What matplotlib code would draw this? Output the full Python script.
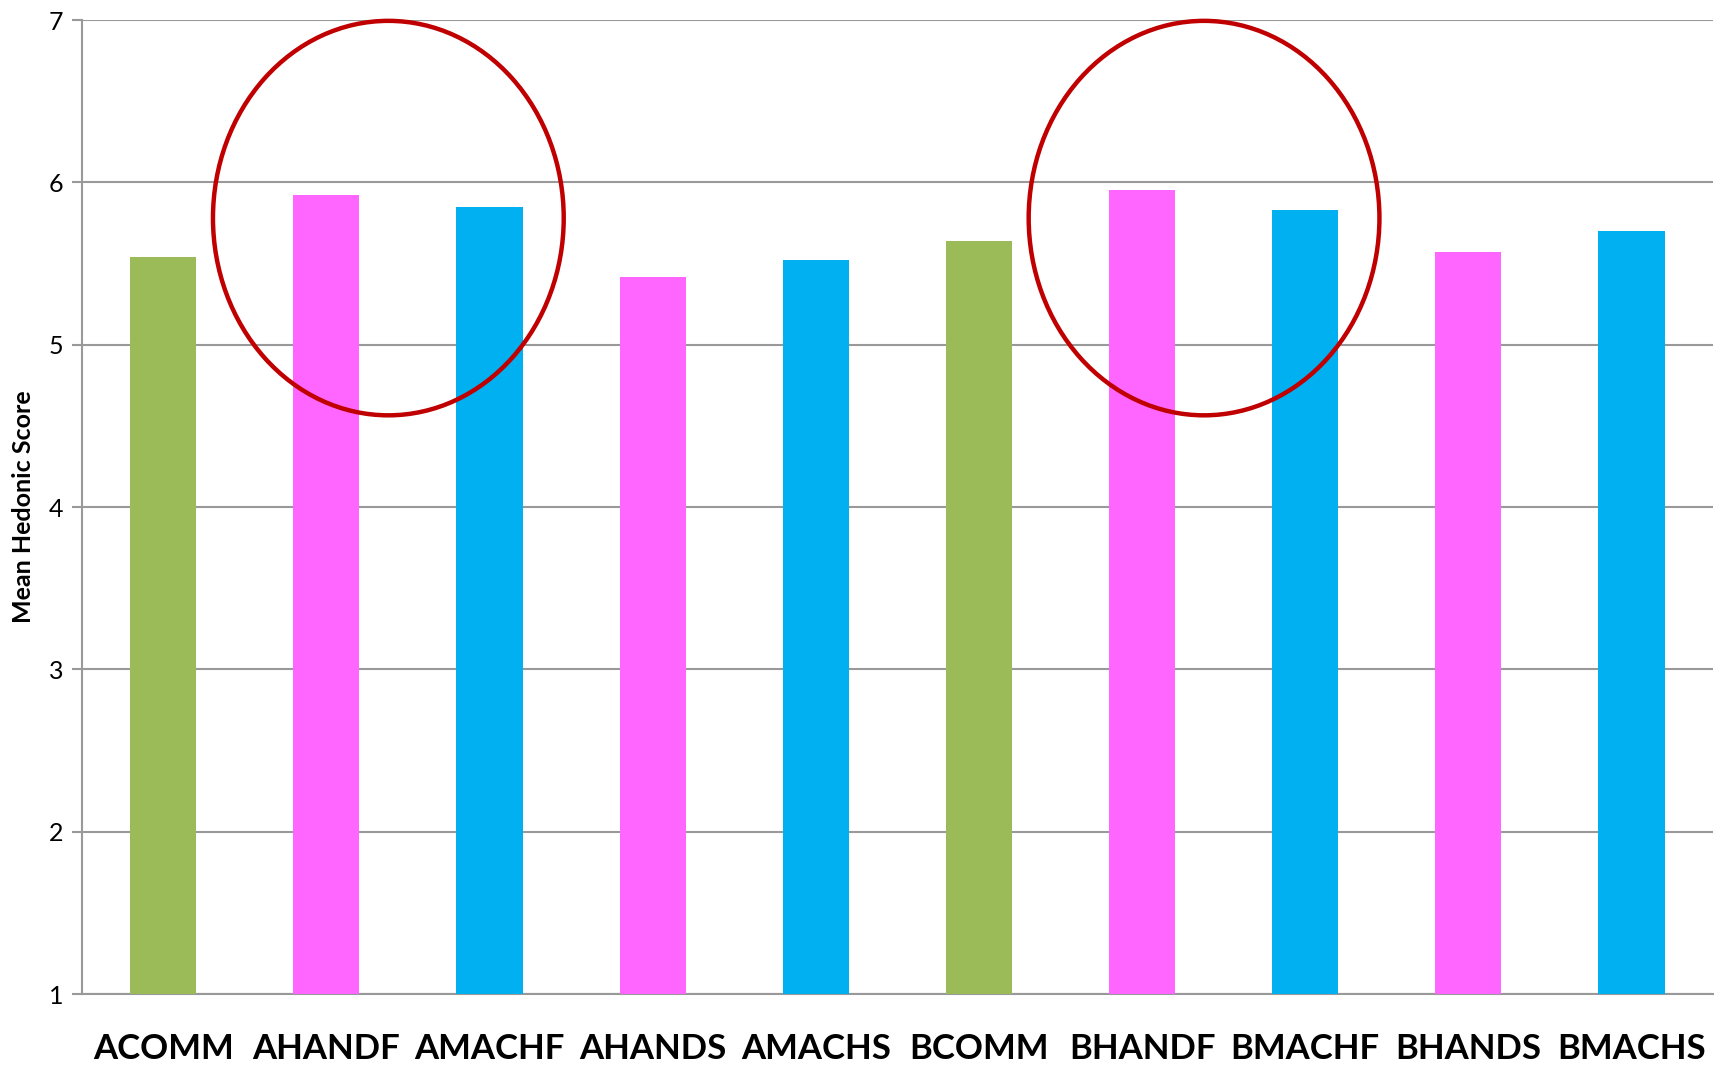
import matplotlib
matplotlib.use("Agg")
import matplotlib.pyplot as plt
from matplotlib.patches import Ellipse

# data
categories = ["ACOMM", "AHANDF", "AMACHF", "AHANDS", "AMACHS",
              "BCOMM", "BHANDF", "BMACHF", "BHANDS", "BMACHS"]
scores = [5.54, 5.92, 5.85, 5.42, 5.52, 5.64, 5.95, 5.83, 5.57, 5.70]
bar_colors = ["#9BBB59", "#FF66FF", "#00B0F0", "#FF66FF", "#00B0F0",
              "#9BBB59", "#FF66FF", "#00B0F0", "#FF66FF", "#00B0F0"]
# highlighted groups (ellipse centre x, centre y, width, height in data units)
highlights = [(1.38, 5.78, 2.15, 2.43), (6.38, 5.78, 2.15, 2.43)]

plt.rcParams['font.family'] = ['Lato', 'DejaVu Sans']

fig = plt.figure(figsize=(17.26, 10.66), dpi=100)
ax = fig.add_axes([0.0473, 0.0675, 0.9452, 0.9137])

x = list(range(len(categories)))
ax.bar(x, [s - 1 for s in scores], bottom=1, width=0.405, color=bar_colors, zorder=3)

for cx, cy, w, h in highlights:
    ax.add_patch(Ellipse((cx, cy), w, h, fill=False, edgecolor="#C00000",
                         linewidth=3.2, zorder=4, clip_on=False))

ax.set_xlim(-0.5, len(categories) - 0.5)
ax.set_ylim(1, 7)
ax.set_yticks(range(1, 8))
ax.set_xticks(x)
ax.set_xticklabels(categories, fontsize=25, fontweight='bold')
ax.tick_params(axis='x', length=0, pad=28)
ax.tick_params(axis='y', length=7, width=1.5, color="#999999", labelsize=18, pad=6)
ax.set_ylabel("Mean Hedonic Score", fontsize=18, fontweight='bold', labelpad=10)

ax.grid(axis='y', color="#999999", linewidth=1.5, zorder=0)
for side in ["top", "right"]:
    ax.spines[side].set_visible(False)
ax.spines["left"].set_color("#999999")
ax.spines["left"].set_linewidth(1.5)
ax.spines["bottom"].set_color("#999999")
ax.spines["bottom"].set_linewidth(1.5)

fig.savefig("out.png", dpi=100)
